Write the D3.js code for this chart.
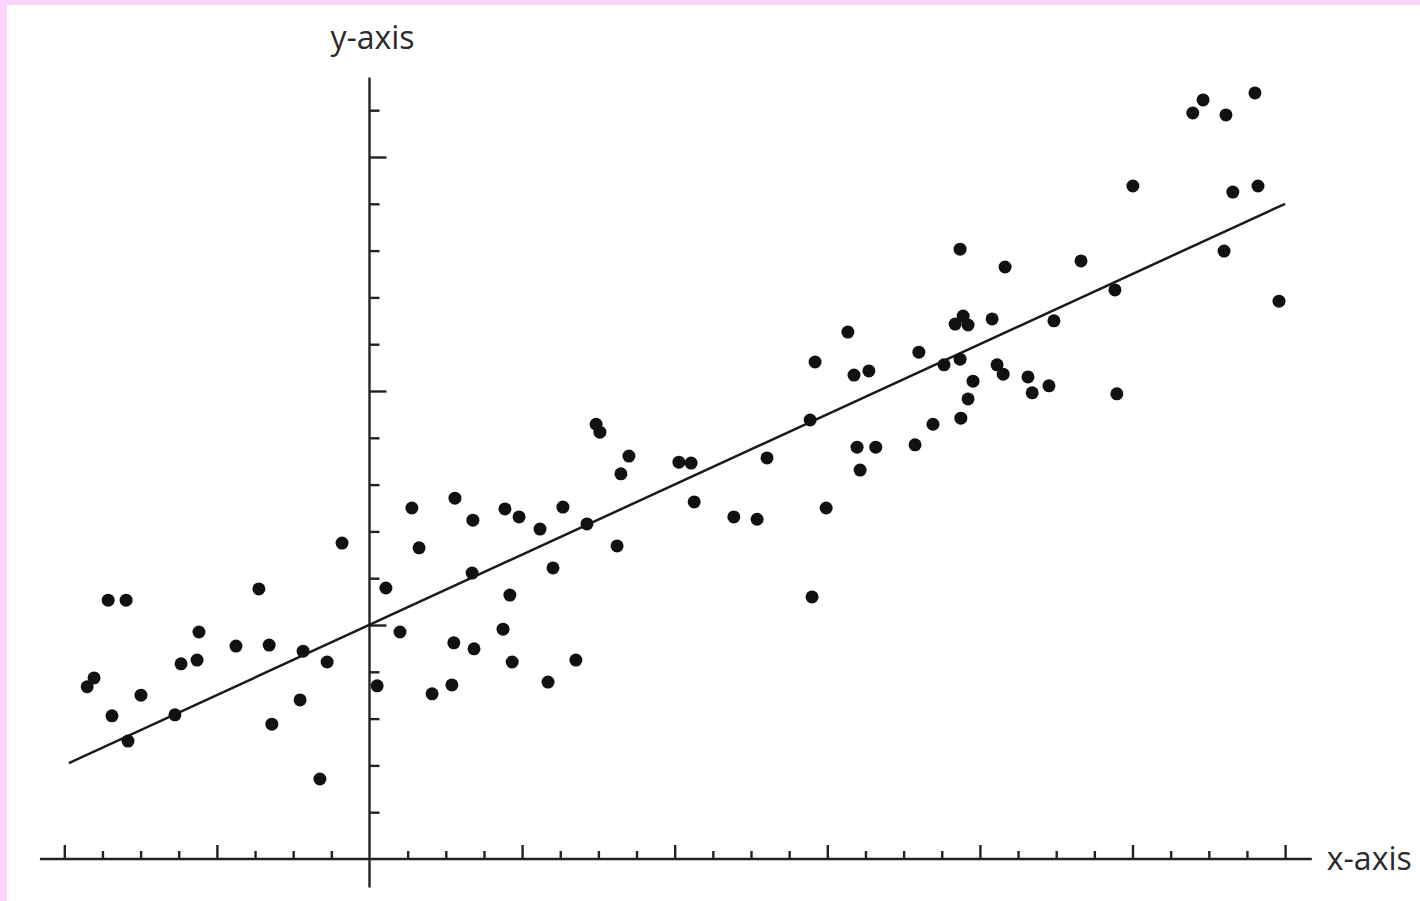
<!DOCTYPE html>
<html>
<head>
<meta charset="utf-8">
<script src="https://cdn.jsdelivr.net/npm/d3@7"></script>
<style>
    html, body { margin: 0; padding: 0; }
    body { width: 1420px; height: 901px; background: #fdd5fb; overflow: hidden; }
    #chart { position: absolute; left: 7px; top: 5px; width: 1413px; height: 896px; background: #fff; }
    text { font-family: "Open Sans", sans-serif; fill: #2b2b2b; }
</style>
</head>
<body>
<div id="chart"></div>
<script>
// scatter points, in tick units
const pointsX = [
    -7.40, -7.22, -6.85, -6.38, -6.75, -6.33, -5.99, -5.10, -4.94, -4.52,
    -4.47, -3.50, -2.90, -2.63, -2.56, -1.82, -1.74, -1.30, -1.11, -0.72,
    0.20, 0.43, 0.80, 1.11, 1.30, 1.64, 2.16, 2.21, 2.24, 2.71,
    2.69, 2.74, 3.50, 3.55, 3.68, 3.74, 3.92, 4.47, 4.68, 4.81,
    5.07, 5.41, 5.70, 5.94, 6.04, 6.49, 6.59, 6.80, 8.11, 8.43,
    8.51, 9.55, 10.16, 10.42, 11.55, 11.60, 11.68, 11.97, 12.54, 12.70,
    12.78, 12.86, 13.09, 13.27, 14.30, 14.40, 14.77, 15.06, 15.35, 15.48,
    15.48, 15.50, 15.56, 15.69, 15.69, 15.82, 16.32, 16.45, 16.61, 16.66,
    17.26, 17.37, 17.81, 17.94, 18.65, 19.54, 19.59, 20.01, 21.58, 21.85,
    22.45, 23.21, 22.40, 22.63, 23.29, 23.84
];
const pointsY = [
    3.68, 3.87, 5.53, 5.53, 3.06, 2.52, 3.50, 3.08, 4.17, 4.25,
    4.85, 4.55, 5.77, 4.57, 2.88, 3.40, 4.44, 1.71, 4.21, 6.75,
    3.70, 5.79, 4.85, 7.50, 6.65, 3.53, 3.72, 4.62, 7.71, 7.24,
    6.11, 4.49, 4.91, 7.48, 5.64, 4.21, 7.31, 7.05, 3.78, 6.22,
    7.52, 4.25, 7.16, 9.29, 9.12, 6.69, 8.23, 8.61, 8.48, 8.46,
    7.63, 7.31, 7.26, 8.57, 9.38, 5.60, 10.62, 7.50, 11.26, 10.34,
    8.80, 8.31, 10.43, 8.80, 8.85, 10.83, 9.29, 10.56, 11.43, 13.03,
    10.68, 9.42, 11.60, 11.41, 9.83, 10.21, 11.54, 10.56, 10.36, 12.65,
    10.30, 9.96, 10.11, 11.50, 12.78, 12.16, 9.94, 14.38, 15.94, 16.22,
    15.90, 16.37, 12.99, 14.25, 14.38, 11.92
];

// fitted line ends
const lineX = [-7.88, 24];
const lineY = [2.05, 14.0];

// axis ticks
const xMinorTicks = [-7, -6, -5, -3, -2, -1, 1, 2, 3, 5, 6, 7, 9, 10, 11, 13, 14, 15, 17, 18, 19, 21, 22, 23];
const xMajorTicks = [-8, -4, 4, 8, 12, 16, 20, 24];
const yMinorTicks = [1, 2, 3, 4, 6, 7, 8, 9, 11, 12, 13, 14, 16];
const yMajorTicks = [5, 10, 15];

// how far the axis lines run
const xAxisExtent = [-8.64, 24.7];
const yAxisExtent = [-0.61, 16.7];

const w = 1413, h = 896;

const svg = d3.select('#chart')
    .append('svg')
    .attr('width', w)
    .attr('height', h);

// chart is offset by the pink frame (7, 5)
const scaleX = d3.scaleLinear()
    .domain([-8, 24])
    .range([64.3 - 7, 1285.1 - 7]);

const scaleY = d3.scaleLinear()
    .domain([0, 16])
    .range([859 - 5, 110.2 - 5]);

const axisColor = '#222';

// axis lines
svg.append('line')
    .attr('x1', scaleX(xAxisExtent[0]))
    .attr('x2', scaleX(xAxisExtent[1]))
    .attr('y1', scaleY(0))
    .attr('y2', scaleY(0))
    .attr('stroke', axisColor)
    .attr('stroke-width', 2.4);

svg.append('line')
    .attr('x1', scaleX(0))
    .attr('x2', scaleX(0))
    .attr('y1', scaleY(yAxisExtent[0]))
    .attr('y2', scaleY(yAxisExtent[1]))
    .attr('stroke', axisColor)
    .attr('stroke-width', 2.4);

const drawTicks = (axis) => {
    const g = svg.append('g').call(axis);
    g.select('.domain').remove();
    g.selectAll('.tick line').attr('stroke', axisColor).attr('stroke-width', 2.4);
    return g;
}

drawTicks(d3.axisTop(scaleX).tickValues(xMinorTicks).tickSize(8).tickFormat(''))
    .attr('transform', `translate(0, ${scaleY(0)})`);
drawTicks(d3.axisTop(scaleX).tickValues(xMajorTicks).tickSize(14).tickFormat(''))
    .attr('transform', `translate(0, ${scaleY(0)})`);

drawTicks(d3.axisRight(scaleY).tickValues(yMinorTicks).tickSize(10).tickFormat(''))
    .attr('transform', `translate(${scaleX(0)}, 0)`);
drawTicks(d3.axisRight(scaleY).tickValues(yMajorTicks).tickSize(17).tickFormat(''))
    .attr('transform', `translate(${scaleX(0)}, 0)`);

// trend line
const line = d3.line()
    .x((d) => scaleX(d[0]))
    .y((d) => scaleY(d[1]));

svg.append('path')
    .datum(lineX.map((d, i) => [d, lineY[i]]))
    .attr('d', line)
    .attr('fill', 'none')
    .attr('stroke', '#1a1a1a')
    .attr('stroke-width', 2.5);

// dots
svg.selectAll('circle')
    .data(pointsX.map((d, i) => [d, pointsY[i]]))
    .enter()
    .append('circle')
    .attr('cx', (d) => scaleX(d[0]))
    .attr('cy', (d) => scaleY(d[1]))
    .attr('r', 6.5)
    .attr('fill', '#111');

// axis names
svg.append('text')
    .attr('x', scaleX(0) + 3)
    .attr('y', 49 - 5)
    .attr('text-anchor', 'middle')
    .style('font-size', '32px')
    .text('y-axis');

svg.append('text')
    .attr('x', scaleX(xAxisExtent[1]) + 15)
    .attr('y', scaleY(0) + 11)
    .attr('text-anchor', 'start')
    .style('font-size', '32px')
    .text('x-axis');
</script>
</body>
</html>
